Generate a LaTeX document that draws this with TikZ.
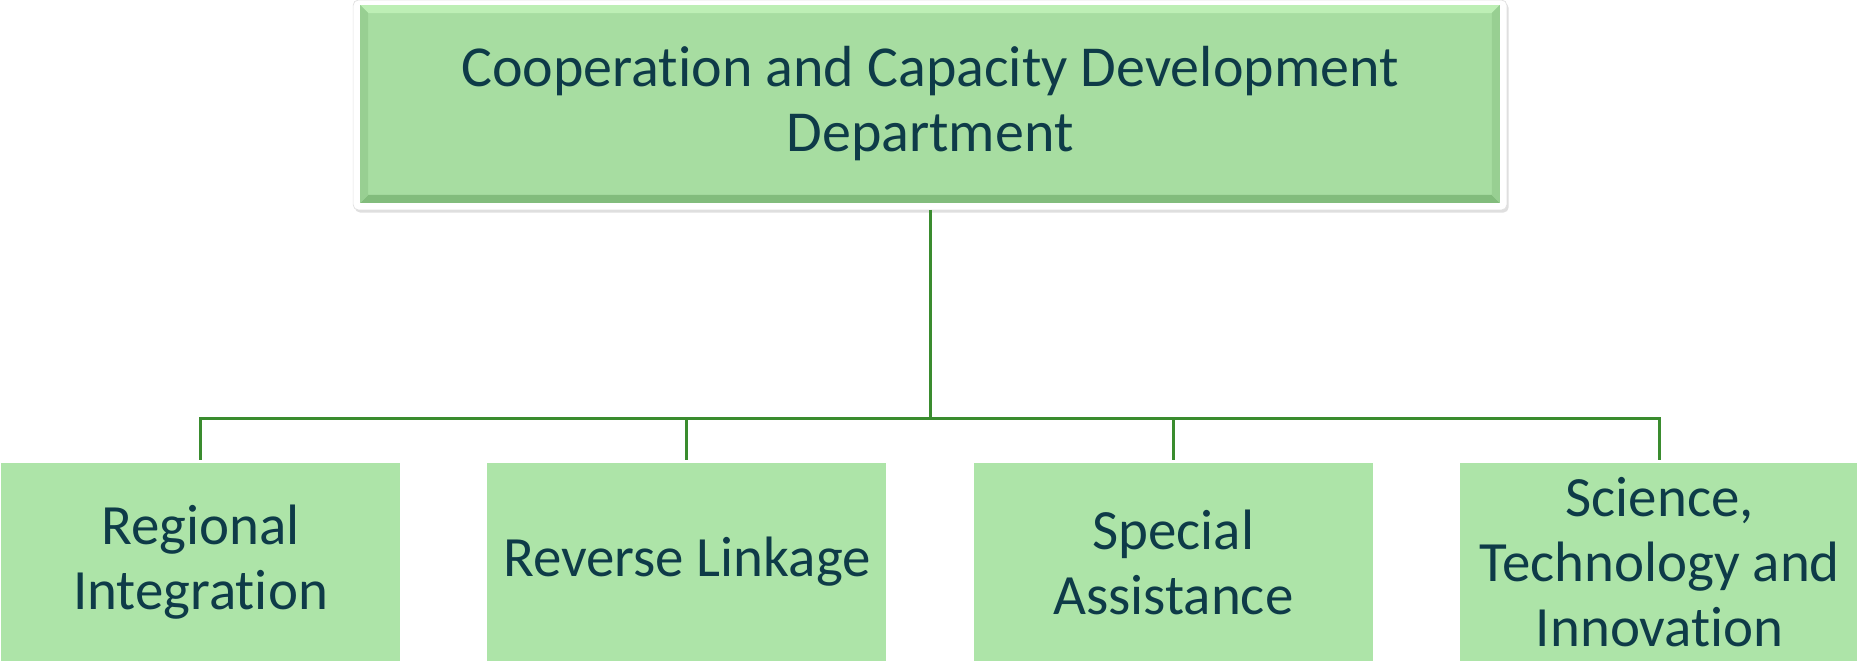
\documentclass[tikz,border=0pt]{standalone}
\usepackage{fontspec}
\setmainfont{Carlito}[Ligatures=NoCommon]
\usetikzlibrary{positioning,calc,shadows,backgrounds}

\definecolor{unitgreen}{HTML}{ADE4A8}
\definecolor{deptgreen}{HTML}{A7DDA1}
\definecolor{bevellight}{HTML}{BDEFB5}
\definecolor{beveldark}{HTML}{82BC7C}
\definecolor{bevelside}{HTML}{98CF92}
\definecolor{linkgreen}{HTML}{3A8C2F}
\definecolor{labelblue}{HTML}{0E3B48}

\tikzset{
  dept/.style={fill=deptgreen, text=labelblue, align=center, inner sep=0pt,
    outer sep=0pt, minimum width=22.8cm, minimum height=3.96cm,
    font=\fontsize{33}{37}\selectfont},
  unit/.style={fill=unitgreen, text=labelblue, align=center, inner sep=0pt,
    outer sep=0pt, minimum width=7.98cm, minimum height=3.96cm,
    font=\fontsize{32.4}{37}\selectfont},
  link/.style={draw=linkgreen, line width=1.7pt}
}

\begin{document}
\begin{tikzpicture}[x=0.02cm, y=-0.02cm, node distance=1.75cm]
  \useasboundingbox (0,0) rectangle (1857,662);

  % head of the department
  \node[dept] (head) at (930,104) {Cooperation and Capacity Development\\Department};
  \coordinate (inw) at (head.north west);
  \coordinate (ine) at (head.north east);
  \coordinate (isw) at (head.south west);
  \coordinate (ise) at (head.south east);
  \fill[bevellight] (inw) -- (ine) -- ($(ine)+(-8,8)$) -- ($(inw)+(8,8)$) -- cycle;
  \fill[beveldark] (isw) -- (ise) -- ($(ise)+(-8,-8)$) -- ($(isw)+(8,-8)$) -- cycle;
  \fill[bevelside] (inw) -- ($(inw)+(8,8)$) -- ($(isw)+(8,-8)$) -- (isw) -- cycle;
  \fill[bevelside] (ine) -- ($(ine)+(-8,8)$) -- ($(ise)+(-8,-8)$) -- (ise) -- cycle;
  \begin{scope}[on background layer]
    \filldraw[fill=white, draw=black!12, rounded corners=3pt,
      drop shadow={opacity=0.25, shadow xshift=1pt, shadow yshift=-1.5pt}]
      ($(head.north west)+(-7,-5)$) rectangle ($(head.south east)+(7,7)$);
  \end{scope}

  % units
  \node[unit] (regional) at (200.5,562) {Regional\\Integration};
  \node[unit, right=of regional] (reverse) {Reverse Linkage};
  \node[unit, right=of reverse] (special) {Special\\Assistance};
  \node[unit, right=of special] (sti) {Science,\\Technology and\\Innovation};

  % connectors
  \coordinate (bus) at ($(head.south)+(0,216)$);
  \draw[link, shorten <=0.14cm] (head.south) -- (bus);
  \foreach \unit in {regional,reverse,special,sti}
    \draw[link, shorten >=0.06cm] (bus) -| (\unit.north);
\end{tikzpicture}
\end{document}
